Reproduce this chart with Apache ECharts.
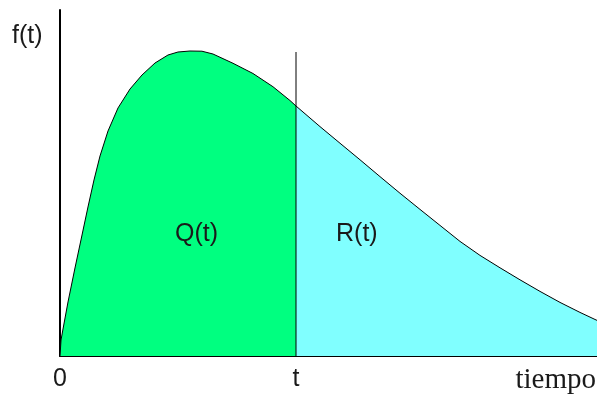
<!DOCTYPE html>
<html>
<head>
<meta charset="utf-8">
<script src="https://cdn.jsdelivr.net/npm/echarts@6/dist/echarts.min.js"></script>
<style>
  html, body { margin: 0; background: #fff; }
  #chart { width: 597px; height: 397px; }
</style>
</head>
<body>
<div id="chart"></div>
<script>
// densidad f(t): curva (eje x 0..100, eje y 0..100)
const tValue = 43.95
const tLineTop = 87.86
const curveX = [0, 0.19, 0.56, 1.49, 2.79, 4.10, 5.21, 6.33, 7.45, 8.94, 10.80, 13.04, 15.27, 17.69, 20.11, 21.97, 24.21, 26.44, 28.49, 32.22, 35.94, 39.66, 42.83, 43.95,
  48.42, 52.14, 55.87, 59.59, 63.31, 67.04, 70.76, 74.49, 78.21, 81.94, 85.66, 89.39, 93.11, 96.83, 100]
const curveY = [0, 4.62, 7.80, 15.61, 25.43, 34.97, 43.06, 50.87, 57.80, 65.03, 71.68, 77.17, 81.21, 84.68, 86.99, 87.86, 88.15, 88.09, 87.28, 84.60, 81.65, 77.83, 73.84, 72.25,
  66.30, 61.50, 56.71, 51.85, 47.05, 42.37, 37.75, 33.12, 29.08, 25.49, 22.02, 18.67, 15.49, 12.60, 10.29]
const tickValues = [0, tValue]
const tickLabels = ['0', 't']

const chart = echarts.init(document.getElementById('chart'))

// partir la curva en Q(t) (antes de t) y R(t) (después de t)
const points = curveX.map((x, i) => [x, curveY[i]])
const qData = points.filter(p => p[0] <= tValue)
const rData = points.filter(p => p[0] >= tValue)

const textColor = '#1a1a1a'
const sans = 'Liberation Sans, Arial, sans-serif'

const option = {
  animation: false,
  grid: { left: 60, right: 0, top: 10, bottom: 41 },
  xAxis: {
    type: 'value',
    min: 0,
    max: 100,
    splitLine: { show: false },
    axisLine: { show: true, lineStyle: { color: '#000', width: 2 } },
    axisTick: { show: false },
    axisLabel: {
      customValues: tickValues,
      formatter: v => tickLabels[tickValues.indexOf(v)],
      color: textColor,
      fontFamily: sans,
      fontSize: 25,
      margin: 11
    }
  },
  yAxis: {
    type: 'value',
    min: 0,
    max: 100,
    splitLine: { show: false },
    axisLine: { show: true, lineStyle: { color: '#000', width: 2 } },
    axisTick: { show: false },
    axisLabel: { show: false }
  },
  series: [
    {
      name: 'Q(t)',
      type: 'line',
      data: qData,
      showSymbol: false,
      lineStyle: { color: '#000', width: 1 },
      areaStyle: { color: '#00ff80', opacity: 1 }
    },
    {
      name: 'R(t)',
      type: 'line',
      data: rData,
      showSymbol: false,
      lineStyle: { color: '#000', width: 1 },
      areaStyle: { color: '#80ffff', opacity: 1 }
    },
    {
      name: 't',
      type: 'line',
      data: [[tValue, 0], [tValue, tLineTop]],
      showSymbol: false,
      z: 5,
      lineStyle: { color: '#000', width: 1 }
    }
  ],
  graphic: [
    { type: 'text', left: 12, top: 24, style: { text: 'f(t)', fill: textColor, font: '25px ' + sans } },
    { type: 'text', right: 1, top: 366, style: { text: 'tiempo', fill: textColor, font: '29px Liberation Serif, serif' } },
    { type: 'text', left: 175, top: 222, z: 10, style: { text: 'Q(t)', fill: textColor, font: '25px ' + sans } },
    { type: 'text', left: 336, top: 222, z: 10, style: { text: 'R(t)', fill: textColor, font: '25px ' + sans } }
  ]
}

chart.setOption(option)
</script>
</body>
</html>
